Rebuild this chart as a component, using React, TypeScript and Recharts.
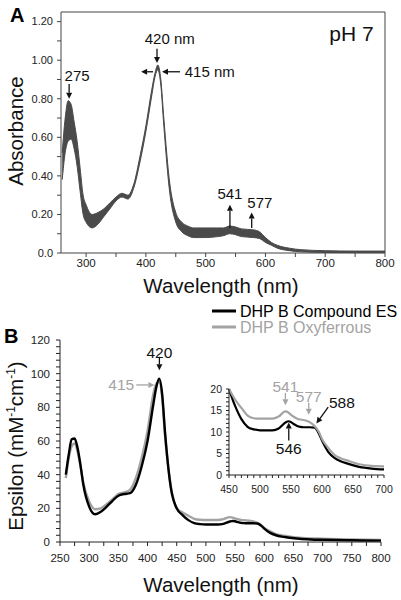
import { ComposedChart, Area, Line, XAxis, YAxis, ReferenceLine, ReferenceDot } from "recharts"

const FONT = "'Liberation Sans', Arial, Helvetica, sans-serif"

// Panel A: many overlapping scans, drawn as one band (lower / upper envelope)
const aWavelength = [260, 265, 270, 275, 280, 285, 290, 295, 300, 310, 320, 330, 340, 350, 360, 370, 380, 390, 400, 410, 415, 420, 425, 430, 440, 450, 460, 470, 480, 500, 520, 530, 540, 550, 560, 580, 590, 600, 610, 620, 640, 660, 700, 750, 800]
const aLow = [0.38, 0.52, 0.58, 0.59, 0.54, 0.45, 0.32, 0.2, 0.16, 0.13, 0.15, 0.19, 0.23, 0.27, 0.29, 0.28, 0.34, 0.47, 0.63, 0.82, 0.91, 0.95, 0.87, 0.66, 0.31, 0.16, 0.11, 0.09, 0.08, 0.08, 0.085, 0.09, 0.1, 0.095, 0.085, 0.08, 0.075, 0.055, 0.04, 0.025, 0.012, 0.006, 0.003, 0.002, 0.002]
const aHigh = [0.52, 0.7, 0.79, 0.77, 0.68, 0.58, 0.44, 0.3, 0.25, 0.2, 0.21, 0.23, 0.26, 0.29, 0.31, 0.3, 0.36, 0.5, 0.66, 0.85, 0.93, 0.975, 0.9, 0.7, 0.36, 0.21, 0.16, 0.14, 0.13, 0.13, 0.13, 0.13, 0.14, 0.135, 0.125, 0.12, 0.11, 0.08, 0.055, 0.04, 0.025, 0.017, 0.012, 0.01, 0.01]

// Panel B: epsilon spectra
const bWavelength = [260, 265, 270, 275, 280, 285, 290, 300, 310, 320, 330, 340, 350, 360, 370, 380, 390, 400, 410, 415, 420, 425, 430, 440, 450, 460, 470, 480, 490, 500, 520, 530, 541, 546, 550, 555, 560, 565, 570, 577, 580, 588, 595, 600, 610, 620, 630, 640, 660, 680, 700, 750, 800]
const compoundES = [40, 52, 61, 61.5, 56, 46, 34, 21, 16.5, 18, 21, 24.5, 27.5, 28.5, 29, 34, 45, 60, 82, 92, 97, 88, 65, 32, 20, 16, 13, 11.2, 10.6, 10.4, 10.4, 10.8, 12.2, 12.5, 12.3, 11.8, 11.4, 11.2, 11.1, 11.1, 11.1, 11, 9.6, 8, 5.4, 4, 3.2, 2.7, 1.9, 1.5, 1.3, 1, 0.8]
const oxyferrous = [38, 50, 57, 58.5, 54, 45, 35, 24, 19.5, 20, 22.5, 25.5, 28.5, 29.5, 31, 38, 50, 66, 88, 94, 95, 86, 63, 33, 20, 17.5, 15.6, 13.8, 13.2, 13.1, 13.1, 13.6, 14.8, 14.5, 14, 13.5, 13.1, 12.9, 12.8, 12.5, 12.3, 11.4, 10, 8.4, 6.3, 4.7, 3.9, 3.4, 2.5, 2.1, 2, 1.5, 1.2]

// ticks
const aXTicks = [300, 350, 400, 450, 500, 550, 600, 650, 700, 750, 800]
const aXLabels = [300, 400, 500, 600, 700, 800]
const aYTicks = [0, 0.1, 0.2, 0.3, 0.4, 0.5, 0.6, 0.7, 0.8, 0.9, 1.0, 1.1, 1.2]
const aYLabels = [0, 0.2, 0.4, 0.6, 0.8, 1.0, 1.2]
const bXLabels = [250, 300, 350, 400, 450, 500, 550, 600, 650, 700, 750, 800]
const bYLabels = [0, 20, 40, 60, 80, 100, 120]
const inXLabels = [450, 500, 550, 600, 650, 700]
const inYLabels = [0, 5, 10, 15, 20]

const aData = aWavelength.map((nm, i) => ({ nm, band: [aLow[i], aHigh[i]] }))
const bData = bWavelength.map((nm, i) => ({ nm, es: compoundES[i], oxy: oxyferrous[i] }))
const insetData = bData.filter((d) => d.nm >= 450 && d.nm <= 700)

// minor ticks between labelled ones
const fill = (majors: number[], parts: number) => {
  const out: number[] = []
  majors.forEach((m, i) => {
    out.push(m)
    if (i < majors.length - 1) {
      const step = (majors[i + 1] - m) / parts
      for (let k = 1; k < parts; k++) out.push(+(m + k * step).toFixed(4))
    }
  })
  return out
}

const GRAY = "#a3a3a3"
const INK = "#111"

const tick = (labels: number[], fmt: (v: number) => string, side: "left" | "bottom", size = 11) => (props: any) => {
  const { x, y, payload } = props
  const v = payload.value
  if (!labels.some((m) => Math.abs(m - v) < 1e-6)) return <g />
  if (side === "left")
    return (
      <text x={x} y={y} dy="0.35em" textAnchor="end" fontSize={size} fill="#222" fontFamily={FONT}>
        {fmt(v)}
      </text>
    )
  return (
    <text x={x} y={y} dy="0.75em" textAnchor="middle" fontSize={size} fill="#222" fontFamily={FONT}>
      {fmt(v)}
    </text>
  )
}

const arrow = (color: string) => (p: any) => {
  const { x1, y1, x2, y2 } = p
  const ang = Math.atan2(y2 - y1, x2 - x1)
  const h = 6
  const w = 3
  const bx = x2 - h * Math.cos(ang)
  const by = y2 - h * Math.sin(ang)
  const pts = [
    [x2, y2],
    [bx - w * Math.sin(ang), by + w * Math.cos(ang)],
    [bx + w * Math.sin(ang), by - w * Math.cos(ang)],
  ]
  return (
    <g>
      <line x1={x1} y1={y1} x2={bx} y2={by} stroke={color} strokeWidth={1.3} />
      <polygon points={pts.map((q) => q.join(",")).join(" ")} fill={color} />
    </g>
  )
}

const note = (text: string, color: string, size: number, anchor: "start" | "middle" | "end" = "middle") => (p: any) => (
  <text x={p.cx} y={p.cy} dy="0.35em" textAnchor={anchor} fontSize={size} fill={color} fontFamily={FONT}>
    {text}
  </text>
)

const seg = (x1: number, y1: number, x2: number, y2: number) => [
  { x: x1, y: y1 },
  { x: x2, y: y2 },
]

function PanelA() {
  return (
    <ComposedChart width={401} height={300} data={aData} margin={{ top: 12, right: 16, left: 11, bottom: 17 }}>
      <XAxis
        dataKey="nm"
        type="number"
        domain={[258, 800]}
        ticks={aXTicks}
        interval={0}
        allowDataOverflow
        height={30}
        tickSize={4}
        tickMargin={1}
        stroke="#444"
        tick={tick(aXLabels, (v) => String(v), "bottom", 11.5)}
      />
      <YAxis
        type="number"
        domain={[0, 1.25]}
        ticks={aYTicks}
        interval={0}
        width={50}
        tickSize={4}
        tickMargin={4}
        stroke="#444"
        tick={tick(aYLabels, (v) => (v === 0 ? "0.0" : v.toFixed(2)), "left")}
      />
      <ReferenceLine y={1.25} stroke="#444" />
      <ReferenceLine x={800} stroke="#444" />
      <Area type="monotone" dataKey="band" stroke="#4a4a4a" strokeWidth={1} fill="#4a4a4a" fillOpacity={1} isAnimationActive={false} />

      <ReferenceLine segment={seg(271.6, 0.877, 271.6, 0.8)} ifOverflow="visible" shape={arrow(INK)} />
      <ReferenceDot x={285} y={0.92} r={1} ifOverflow="visible" shape={note("275", INK, 15)} />
      <ReferenceLine segment={seg(418.6, 1.06, 418.6, 0.985)} ifOverflow="visible" shape={arrow(INK)} />
      <ReferenceDot x={440} y={1.11} r={1} ifOverflow="visible" shape={note("420 nm", INK, 15)} />
      <ReferenceLine segment={seg(457, 0.94, 427, 0.94)} ifOverflow="visible" shape={arrow(INK)} />
      <ReferenceLine segment={seg(412, 0.94, 392, 0.94)} ifOverflow="visible" shape={arrow(INK)} />
      <ReferenceDot x={465} y={0.94} r={1} ifOverflow="visible" shape={note("415 nm", INK, 15, "start")} />
      <ReferenceDot x={744} y={1.14} r={1} ifOverflow="visible" shape={note("pH 7", INK, 21)} />
      <ReferenceLine segment={seg(540.6, 0.13, 540.6, 0.25)} ifOverflow="visible" shape={arrow(INK)} />
      <ReferenceDot x={540.6} y={0.307} r={1} ifOverflow="visible" shape={note("541", INK, 15)} />
      <ReferenceLine segment={seg(577, 0.13, 577, 0.21)} ifOverflow="visible" shape={arrow(INK)} />
      <ReferenceDot x={590.7} y={0.26} r={1} ifOverflow="visible" shape={note("577", INK, 15)} />
    </ComposedChart>
  )
}

function PanelB() {
  return (
    <ComposedChart width={401} height={300} data={bData} margin={{ top: 50, right: 20, left: 10, bottom: 18 }}>
      <XAxis
        dataKey="nm"
        type="number"
        domain={[250, 800]}
        ticks={fill(bXLabels, 2)}
        interval={0}
        height={30}
        tickSize={4}
        tickMargin={7}
        stroke="#222"
        tick={tick(bXLabels, (v) => String(v), "bottom", 11.5)}
      />
      <YAxis
        type="number"
        domain={[0, 120]}
        ticks={fill(bYLabels, 5)}
        interval={0}
        width={50}
        tickSize={4}
        tickMargin={6}
        stroke="#222"
        tick={tick(bYLabels, (v) => String(v), "left", 11.5)}
      />
      <Line type="monotone" dataKey="oxy" stroke={GRAY} strokeWidth={2.4} dot={false} isAnimationActive={false} />
      <Line type="monotone" dataKey="es" stroke="#000" strokeWidth={2.4} dot={false} isAnimationActive={false} />

      <ReferenceDot x={420.3} y={112.3} r={1} ifOverflow="visible" shape={note("420", INK, 15.5)} />
      <ReferenceLine segment={seg(420.3, 110, 420.3, 102)} ifOverflow="visible" shape={arrow(INK)} />
      <ReferenceDot x={355} y={93.3} r={1} ifOverflow="visible" shape={note("415", GRAY, 15.5)} />
      <ReferenceLine segment={seg(380.7, 93.3, 411.7, 93.3)} ifOverflow="visible" shape={arrow(GRAY)} />
    </ComposedChart>
  )
}

function Inset() {
  return (
    <ComposedChart width={221} height={130} data={insetData} margin={{ top: 19, right: 17, left: 19, bottom: 5 }}>
      <XAxis
        dataKey="nm"
        type="number"
        domain={[450, 700]}
        ticks={fill(inXLabels, 5)}
        interval={0}
        height={20}
        tickSize={3}
        tickMargin={7}
        stroke="#222"
        tick={tick(inXLabels, (v) => String(v), "bottom", 10.5)}
      />
      <YAxis
        type="number"
        domain={[0, 20]}
        ticks={fill(inYLabels, 5)}
        interval={0}
        width={30}
        tickSize={3}
        tickMargin={4}
        stroke="#222"
        tick={tick(inYLabels, (v) => String(v), "left", 10.5)}
      />
      <Line type="monotone" dataKey="es" stroke="#000" strokeWidth={2.2} dot={false} isAnimationActive={false} />
      <Line type="monotone" dataKey="oxy" stroke={GRAY} strokeWidth={2.2} dot={false} isAnimationActive={false} />

      <ReferenceDot x={541} y={20.5} r={1} ifOverflow="visible" shape={note("541", GRAY, 15.5)} />
      <ReferenceLine segment={seg(541, 19.1, 541, 16.2)} ifOverflow="visible" shape={arrow(GRAY)} />
      <ReferenceDot x={578.6} y={18.2} r={1} ifOverflow="visible" shape={note("577", GRAY, 15.5)} />
      <ReferenceLine segment={seg(578.6, 16.8, 578.6, 14)} ifOverflow="visible" shape={arrow(GRAY)} />
      <ReferenceDot x={632} y={16.9} r={1} ifOverflow="visible" shape={note("588", INK, 15.5)} />
      <ReferenceLine segment={seg(610, 15.8, 591, 12)} ifOverflow="visible" shape={arrow(INK)} />
      <ReferenceDot x={546.4} y={6.2} r={1} ifOverflow="visible" shape={note("546", INK, 15.5)} />
      <ReferenceLine segment={seg(546.4, 8, 546.4, 12.2)} ifOverflow="visible" shape={arrow(INK)} />
    </ComposedChart>
  )
}

export default function App() {
  return (
    <div style={{ position: "absolute", left: 0, top: 0, width: 401, height: 600, background: "#fff", fontFamily: FONT, overflow: "hidden" }}>
      <div style={{ position: "absolute", left: 0, top: 0 }}>
        <PanelA />
      </div>
      <div style={{ position: "absolute", left: 0, top: 290 }}>
        <PanelB />
      </div>
      <div style={{ position: "absolute", left: 180, top: 370 }}>
        <Inset />
      </div>
      <svg width={401} height={600} style={{ position: "absolute", left: 0, top: 0, pointerEvents: "none" }} fontFamily={FONT}>
        <text x={10} y={22} fontSize={20} fontWeight="bold" fill="#000">A</text>
        <text x={4} y={343} fontSize={20} fontWeight="bold" fill="#000">B</text>
        <text x={221} y={293} fontSize={20.5} textAnchor="middle" fill="#111">Wavelength (nm)</text>
        <text x={221} y={592} fontSize={20.5} textAnchor="middle" fill="#111">Wavelength (nm)</text>
        <text transform="translate(23,131) rotate(-90)" fontSize={20.5} textAnchor="middle" fill="#111">Absorbance</text>
        <text transform="translate(23,446) rotate(-90)" fontSize={20.5} textAnchor="middle" fill="#111">
          Epsilon (mM
          <tspan fontSize={12} dy={-8}>-1</tspan>
          <tspan dy={8}>cm</tspan>
          <tspan fontSize={12} dy={-8}>-1</tspan>
          <tspan dy={8}>)</tspan>
        </text>
        <line x1={212} y1={311} x2={236} y2={311} stroke="#000" strokeWidth={3} />
        <text x={240} y={316.5} fontSize={16} fill="#000">DHP B Compound ES</text>
        <line x1={212} y1={327} x2={236} y2={327} stroke={GRAY} strokeWidth={3} />
        <text x={240} y={332.5} fontSize={16} fill={GRAY}>DHP B Oxyferrous</text>
      </svg>
    </div>
  )
}
